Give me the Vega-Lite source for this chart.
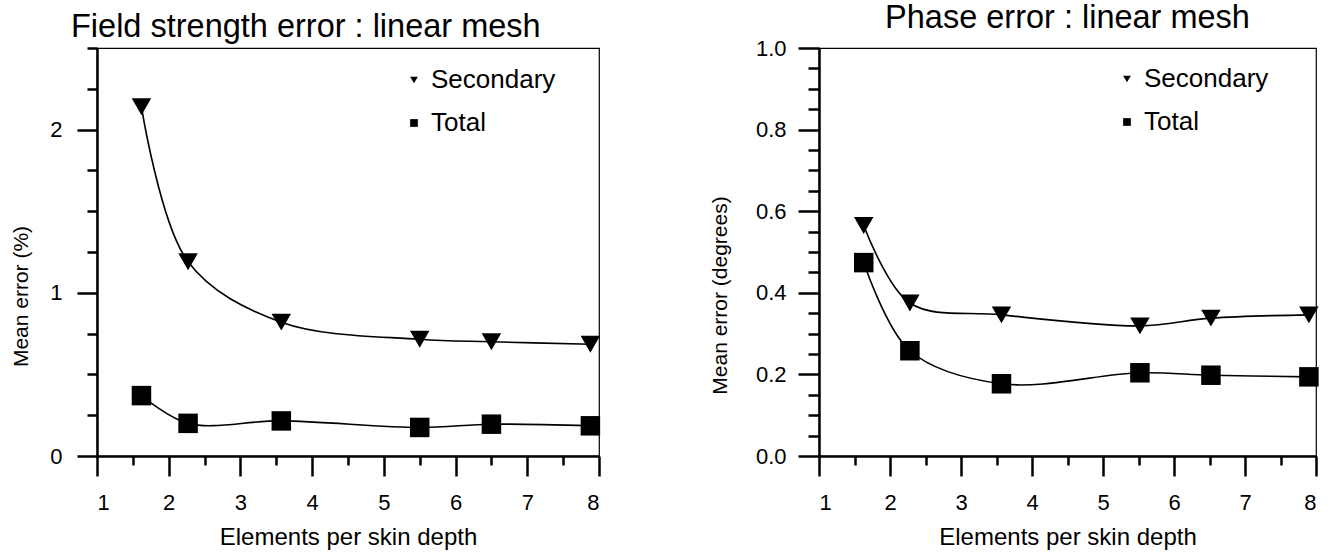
{
  "$schema": "https://vega.github.io/schema/vega-lite/v6.json",
  "background": "white",
  "padding": {"left": 10, "top": 0, "right": 5, "bottom": 0},
  "config": {
    "font": "Liberation Sans",
    "view": {"stroke": "black", "strokeWidth": 1.2},
    "axis": {"labelColor": "black", "titleColor": "black", "domainColor": "black", "tickColor": "black", "grid": false, "labelFont": "Liberation Sans", "titleFont": "Liberation Sans", "titleFontWeight": "normal"},
    "title": {"color": "black", "font": "Liberation Sans", "fontWeight": "normal", "fontSize": 32.5}
  },
  "datasets": {
    "field": [
      {"x": 1.62, "y": 2.14, "series": "Secondary"},
      {"x": 2.27, "y": 1.19, "series": "Secondary"},
      {"x": 3.57, "y": 0.82, "series": "Secondary"},
      {"x": 5.5, "y": 0.715, "series": "Secondary"},
      {"x": 6.5, "y": 0.7, "series": "Secondary"},
      {"x": 7.88, "y": 0.685, "series": "Secondary"},
      {"x": 1.62, "y": 0.37, "series": "Total"},
      {"x": 2.27, "y": 0.2, "series": "Total"},
      {"x": 3.57, "y": 0.215, "series": "Total"},
      {"x": 5.5, "y": 0.175, "series": "Total"},
      {"x": 6.5, "y": 0.195, "series": "Total"},
      {"x": 7.88, "y": 0.185, "series": "Total"}
    ],
    "phase": [
      {"x": 1.63, "y": 0.565, "series": "Secondary"},
      {"x": 2.28, "y": 0.375, "series": "Secondary"},
      {"x": 3.57, "y": 0.346, "series": "Secondary"},
      {"x": 5.52, "y": 0.319, "series": "Secondary"},
      {"x": 6.52, "y": 0.338, "series": "Secondary"},
      {"x": 7.9, "y": 0.346, "series": "Secondary"},
      {"x": 1.63, "y": 0.474, "series": "Total"},
      {"x": 2.28, "y": 0.258, "series": "Total"},
      {"x": 3.57, "y": 0.177, "series": "Total"},
      {"x": 5.52, "y": 0.204, "series": "Total"},
      {"x": 6.52, "y": 0.198, "series": "Total"},
      {"x": 7.9, "y": 0.194, "series": "Total"}
    ]
  },
  "spacing": 107,
  "hconcat": [
    {
      "width": 502,
      "height": 408,
      "title": {"text": "Field strength error : linear mesh", "anchor": "start", "frame": "group", "dx": -26, "offset": 3},
      "data": {"name": "field"},
      "layer": [
        {
          "mark": {"type": "line", "interpolate": "catmull-rom", "color": "black", "strokeWidth": 1.6},
          "encoding": {
            "x": {"field": "x", "type": "quantitative", "scale": {"domain": [1, 8], "nice": false}, "axis": {"orient": "bottom", "values": [1, 2, 3, 4, 5, 6, 7, 8], "format": "d", "tickSize": 20, "tickWidth": 2.5, "domainWidth": 2.5, "labelFontSize": 22, "labelPadding": 16, "title": "Elements per skin depth", "titleFontSize": 24, "titlePadding": 12}},
            "y": {"field": "y", "type": "quantitative", "scale": {"domain": [0, 2.5], "nice": false}, "axis": {"orient": "left", "values": [0, 1, 2], "format": "d", "tickSize": 20, "tickWidth": 2.5, "domainWidth": 2.5, "labelFontSize": 22, "labelPadding": 15, "title": "Mean error (%)", "titleFontSize": 21, "titlePadding": 18, "titleY": 248}},
            "detail": {"field": "series"}
          }
        },
        {
          "mark": {"type": "point", "filled": true, "color": "black", "opacity": 1, "size": 380},
          "encoding": {
            "x": {"field": "x", "type": "quantitative", "axis": {"orient": "bottom", "values": [1.5, 2.5, 3.5, 4.5, 5.5, 6.5, 7.5], "labels": false, "domain": false, "tickSize": 9, "tickWidth": 2.5, "title": null}},
            "y": {"field": "y", "type": "quantitative", "axis": {"orient": "left", "values": [0.25, 0.5, 0.75, 1.25, 1.5, 1.75, 2.25, 2.5], "labels": false, "domain": false, "tickSize": 10, "tickWidth": 2.5, "title": null}},
            "shape": {"field": "series", "type": "nominal", "scale": {"domain": ["Secondary", "Total"], "range": ["triangle-down", "square"]}, "legend": {"orient": "none", "legendX": 304, "legendY": 19, "title": null, "padding": 0, "symbolSize": 60, "symbolFillColor": "black", "symbolStrokeColor": "black", "labelFontSize": 26, "labelColor": "black", "labelOffset": 4, "rowPadding": 17}}
          }
        }
      ],
      "resolve": {"axis": {"x": "independent", "y": "independent"}}
    },
    {
      "width": 497,
      "height": 408,
      "title": {"text": "Phase error : linear mesh", "anchor": "middle", "offset": 3},
      "data": {"name": "phase"},
      "layer": [
        {
          "mark": {"type": "line", "interpolate": "catmull-rom", "color": "black", "strokeWidth": 1.6},
          "encoding": {
            "x": {"field": "x", "type": "quantitative", "scale": {"domain": [1, 8], "nice": false}, "axis": {"orient": "bottom", "values": [1, 2, 3, 4, 5, 6, 7, 8], "format": "d", "tickSize": 20, "tickWidth": 2.5, "domainWidth": 2.5, "labelFontSize": 22, "labelPadding": 16, "title": "Elements per skin depth", "titleFontSize": 24, "titlePadding": 12}},
            "y": {"field": "y", "type": "quantitative", "scale": {"domain": [0, 1], "nice": false}, "axis": {"orient": "left", "values": [0, 0.2, 0.4, 0.6, 0.8, 1.0], "format": ".1f", "tickSize": 21, "tickWidth": 2.5, "domainWidth": 2.5, "labelFontSize": 22, "labelPadding": 12, "title": "Mean error (degrees)", "titleFontSize": 21, "titlePadding": 25, "titleY": 247}},
            "detail": {"field": "series"}
          }
        },
        {
          "mark": {"type": "point", "filled": true, "color": "black", "opacity": 1, "size": 380},
          "encoding": {
            "x": {"field": "x", "type": "quantitative", "axis": {"orient": "bottom", "values": [1.5, 2.5, 3.5, 4.5, 5.5, 6.5, 7.5], "labels": false, "domain": false, "tickSize": 9, "tickWidth": 2.5, "title": null}},
            "y": {"field": "y", "type": "quantitative", "axis": {"orient": "left", "values": [0.05, 0.1, 0.15, 0.25, 0.3, 0.35, 0.45, 0.5, 0.55, 0.65, 0.7, 0.75, 0.85, 0.9, 0.95], "labels": false, "domain": false, "tickSize": 11, "tickWidth": 2.5, "title": null}},
            "shape": {"field": "series", "type": "nominal", "scale": {"domain": ["Secondary", "Total"], "range": ["triangle-down", "square"]}, "legend": {"orient": "none", "legendX": 295, "legendY": 18, "title": null, "padding": 0, "symbolSize": 60, "symbolFillColor": "black", "symbolStrokeColor": "black", "labelFontSize": 26, "labelColor": "black", "labelOffset": 4, "rowPadding": 17}}
          }
        }
      ],
      "resolve": {"axis": {"x": "independent", "y": "independent"}}
    }
  ],
  "resolve": {"legend": {"shape": "independent"}, "scale": {"shape": "independent"}}
}
